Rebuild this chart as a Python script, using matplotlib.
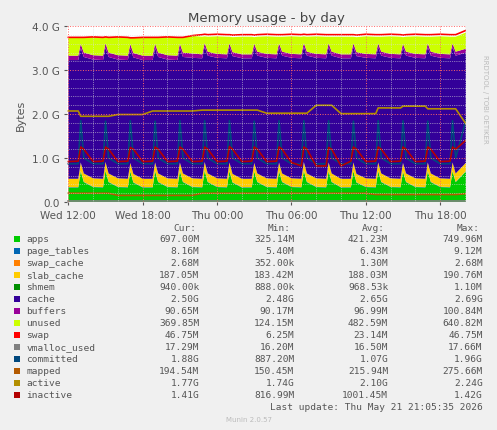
import matplotlib
matplotlib.use("Agg")
import matplotlib.pyplot as plt
import numpy as np

hours = [0,
 0.8,1,1.25,2, 2.8,3,3.25,4, 4.8,5,5.25,6, 6.8,7,7.25,8,
 8.8,9,9.25,10, 10.8,11,11.25,12, 12.8,13,13.25,14, 14.8,15,15.25,16,
 16.8,17,17.25,18, 18.8,19,19.25,20, 20.8,21,21.25,22, 22.8,23,23.25,24,
 24.8,25,25.25,26, 26.8,27,27.25,28, 28.8,29,29.25,30, 30.8,31,31.25,32.1]

apps = [0.33,
 0.33,0.70,0.45,0.34, 0.33,0.71,0.45,0.34, 0.33,0.69,0.44,0.33, 0.33,0.70,0.45,0.34,
 0.33,0.70,0.45,0.34, 0.33,0.71,0.45,0.34, 0.33,0.70,0.44,0.33, 0.33,0.69,0.45,0.34,
 0.33,0.70,0.45,0.34, 0.33,0.71,0.45,0.34, 0.33,0.70,0.45,0.33, 0.33,0.70,0.44,0.34,
 0.33,0.70,0.45,0.34, 0.33,0.69,0.45,0.34, 0.33,0.70,0.45,0.34, 0.33,0.70,0.45,0.70]
page_tables = [0.008]*65
swap_cache = [0.002]*65
slab_cache = [0.188]*65
shmem = [0.001]*65
cache = [2.70,
 2.70,2.60,2.65,2.70, 2.70,2.60,2.65,2.70, 2.70,2.60,2.65,2.70, 2.70,2.60,2.65,2.70,
 2.70,2.60,2.65,2.74, 2.74,2.62,2.68,2.74, 2.74,2.62,2.68,2.74, 2.74,2.62,2.68,2.74,
 2.74,2.62,2.68,2.74, 2.74,2.62,2.68,2.74, 2.74,2.62,2.68,2.74, 2.74,2.62,2.68,2.74,
 2.74,2.62,2.68,2.74, 2.74,2.62,2.68,2.74, 2.74,2.62,2.68,2.74, 2.74,2.62,2.68,2.50]
buffers = [0.10]*21 + [0.09]*44
unused = [0.41,
 0.41,0.14,0.34,0.41, 0.41,0.14,0.34,0.41, 0.41,0.14,0.34,0.41, 0.41,0.14,0.34,0.41,
 0.41,0.14,0.34,0.40, 0.40,0.15,0.34,0.40, 0.40,0.15,0.34,0.40, 0.40,0.15,0.34,0.40,
 0.40,0.15,0.34,0.40, 0.40,0.15,0.34,0.40, 0.40,0.15,0.34,0.40, 0.40,0.15,0.34,0.40,
 0.40,0.15,0.34,0.40, 0.40,0.15,0.34,0.40, 0.40,0.15,0.34,0.40, 0.40,0.15,0.34,0.37]
swap = [0.006]*21 + [0.047]*44
vmalloc_used = [0.017]*65
committed = [0.87,
 0.87,1.85,1.00,0.87, 0.87,1.84,1.00,0.87, 0.87,1.85,1.00,0.87, 0.87,1.84,1.00,0.87,
 0.87,1.85,1.00,0.87, 0.87,1.85,1.00,0.87, 0.87,1.85,1.00,0.87, 0.87,1.84,1.00,0.87,
 0.87,1.85,1.00,0.87, 0.87,1.85,1.00,0.87, 0.87,1.85,1.00,0.87, 0.87,1.84,1.00,0.87,
 0.87,1.85,1.00,0.87, 0.87,1.85,1.00,0.87, 0.87,1.84,1.00,0.87, 0.87,1.85,1.00,1.88]
mapped = [0.20,
 0.20,0.20,0.20,0.20, 0.20,0.20,0.20,0.15, 0.15,0.15,0.15,0.15, 0.15,0.15,0.15,0.15,
 0.15,0.15,0.15,0.15, 0.20,0.20,0.20,0.20, 0.20,0.20,0.20,0.20, 0.20,0.20,0.20,0.20,
 0.20,0.20,0.20,0.20, 0.20,0.20,0.20,0.20, 0.20,0.20,0.20,0.20, 0.20,0.20,0.20,0.20,
 0.17,0.17,0.17,0.17, 0.17,0.17,0.17,0.17, 0.17,0.17,0.17,0.17, 0.17,0.17,0.17,0.19]
active = [2.07,
 2.07,1.95,1.95,1.95, 1.95,1.95,1.95,1.99, 1.99,1.99,1.99,1.99, 2.07,2.07,2.07,2.07,
 2.07,2.07,2.07,2.07, 2.09,2.09,2.09,2.09, 2.09,2.09,2.09,2.09, 2.09,2.09,2.09,2.02,
 2.02,2.02,2.02,2.02, 2.02,2.02,2.02,2.20, 2.20,2.20,2.20,2.01, 2.01,2.01,2.01,2.01,
 2.01,2.14,2.14,2.14, 2.14,2.18,2.18,2.18, 2.18,2.12,2.12,2.12, 2.12,2.12,2.12,1.77]
inactive = [0.92,
 0.93,1.25,1.20,0.92, 0.93,1.25,1.20,0.92, 0.93,1.24,1.20,0.92, 0.93,1.25,1.20,0.92,
 0.93,1.25,1.20,0.92, 0.93,1.25,1.20,0.92, 0.93,1.26,1.20,0.92, 0.93,1.25,1.20,0.92,
 0.93,1.25,1.20,0.90, 0.82,1.25,1.20,0.82, 0.82,1.24,1.20,0.82, 0.93,1.25,1.20,0.92,
 0.93,1.25,1.20,0.92, 0.93,1.25,1.20,0.92, 0.93,1.25,1.20,0.92, 0.93,1.25,1.20,1.41]

tick_labels = ["Wed 12:00", "Wed 18:00", "Thu 00:00", "Thu 06:00", "Thu 12:00", "Thu 18:00"]
tick_hours = [0, 6, 12, 18, 24, 30]

legend_rows = [
 ("apps", "#00CC00", "697.00M", "325.14M", "421.23M", "749.96M"),
 ("page_tables", "#0066B3", "8.16M", "5.40M", "6.43M", "9.12M"),
 ("swap_cache", "#FF8000", "2.68M", "352.00k", "1.30M", "2.68M"),
 ("slab_cache", "#FFCC00", "187.05M", "183.42M", "188.03M", "190.76M"),
 ("shmem", "#008F00", "940.00k", "888.00k", "968.53k", "1.10M"),
 ("cache", "#330099", "2.50G", "2.48G", "2.65G", "2.69G"),
 ("buffers", "#990099", "90.65M", "90.17M", "96.99M", "100.84M"),
 ("unused", "#CCFF00", "369.85M", "124.15M", "482.59M", "640.82M"),
 ("swap", "#FF0000", "46.75M", "6.25M", "23.14M", "46.75M"),
 ("vmalloc_used", "#808080", "17.29M", "16.20M", "16.50M", "17.66M"),
 ("committed", "#00487D", "1.88G", "887.20M", "1.07G", "1.96G"),
 ("mapped", "#B35A00", "194.54M", "150.45M", "215.94M", "275.66M"),
 ("active", "#B38F00", "1.77G", "1.74G", "2.10G", "2.24G"),
 ("inactive", "#B30000", "1.41G", "816.99M", "1001.45M", "1.42G"),
]

fig = plt.figure(figsize=(4.97, 4.31), dpi=100, facecolor="#F0F0F0")
ax = fig.add_axes([0.135, 0.529, 0.803, 0.408])
ax.set_facecolor("white")

t = np.array(hours)
stack = [apps, page_tables, swap_cache, slab_cache, shmem, cache, buffers, unused]
scol = ["#00CC00", "#0066B3", "#FF8000", "#FFCC00", "#008F00", "#330099", "#990099", "#CCFF00"]
ax.stackplot(t, *stack, colors=scol, linewidth=0)
top = np.sum(np.array(stack), axis=0)
ax.plot(t, top + np.array(swap), color="#FF0000", lw=1.2)
for s, c in [(vmalloc_used, "#808080"), (committed, "#00487D"), (mapped, "#B35A00"),
             (active, "#B38F00"), (inactive, "#B30000")]:
    ax.plot(t, s, color=c, lw=1.2)

ax.set_xlim(-0.1, 32.1)
ax.set_ylim(0, 4.0)
ax.set_yticks([0, 1, 2, 3, 4])
ax.set_yticklabels(["0.0", "1.0 G", "2.0 G", "3.0 G", "4.0 G"])
ax.set_xticks(tick_hours)
ax.set_xticklabels(tick_labels)
ax.set_xticks(np.arange(0, 33, 2), minor=True)
ax.set_yticks(np.arange(0, 4.01, 0.2), minor=True)
ax.tick_params(labelsize=7.5, colors="#555555", length=2)
ax.tick_params(which="minor", length=0)
ax.grid(True, which="major", color="#FF6666", ls=":", lw=0.7)
ax.grid(True, which="minor", color="#DDDDDD", ls=":", lw=0.5)
ax.set_axisbelow(False)
for sp in ax.spines.values():
    sp.set_visible(False)
ax.axhline(0, color="#AAAAAA", lw=0.8)
ax.set_ylabel("Bytes", fontsize=8, color="#555555")
ax.set_title("Memory usage - by day", fontsize=9.5, color="#444444", pad=4)
fig.text(0.975, 0.77, "RRDTOOL / TOBI OETIKER", rotation=270, fontsize=5, color="#BBBBBB", ha="center", va="center")

mono = "DejaVu Sans Mono"
fs = 6.8
def ypx(p):
    return 1 - p / 431
fig.text(0.395, ypx(229), "Cur:", fontsize=fs, family=mono, color="#555555", ha="right", va="center")
fig.text(0.585, ypx(229), "Min:", fontsize=fs, family=mono, color="#555555", ha="right", va="center")
fig.text(0.775, ypx(229), "Avg:", fontsize=fs, family=mono, color="#555555", ha="right", va="center")
fig.text(0.965, ypx(229), "Max:", fontsize=fs, family=mono, color="#555555", ha="right", va="center")
for i, (name, col, cur, mn, av, mx) in enumerate(legend_rows):
    y = ypx(240 + i * 12)
    fig.patches.append(plt.Rectangle((0.028, y - 0.008), 0.013, 0.016, transform=fig.transFigure,
                                     facecolor=col, edgecolor="none"))
    fig.text(0.053, y, name, fontsize=fs, family=mono, color="#555555", va="center")
    for x, v in [(0.401, cur), (0.592, mn), (0.781, av), (0.971, mx)]:
        fig.text(x, y, v, fontsize=fs, family=mono, color="#555555", ha="right", va="center")
fig.text(0.971, ypx(408), "Last update: Thu May 21 21:05:35 2026", fontsize=fs, family=mono,
         color="#555555", ha="right", va="center")
fig.text(0.5, ypx(420), "Munin 2.0.57", fontsize=5, color="#BBBBBB", ha="center", va="center")

fig.savefig("out.png", dpi=100, facecolor=fig.get_facecolor())
